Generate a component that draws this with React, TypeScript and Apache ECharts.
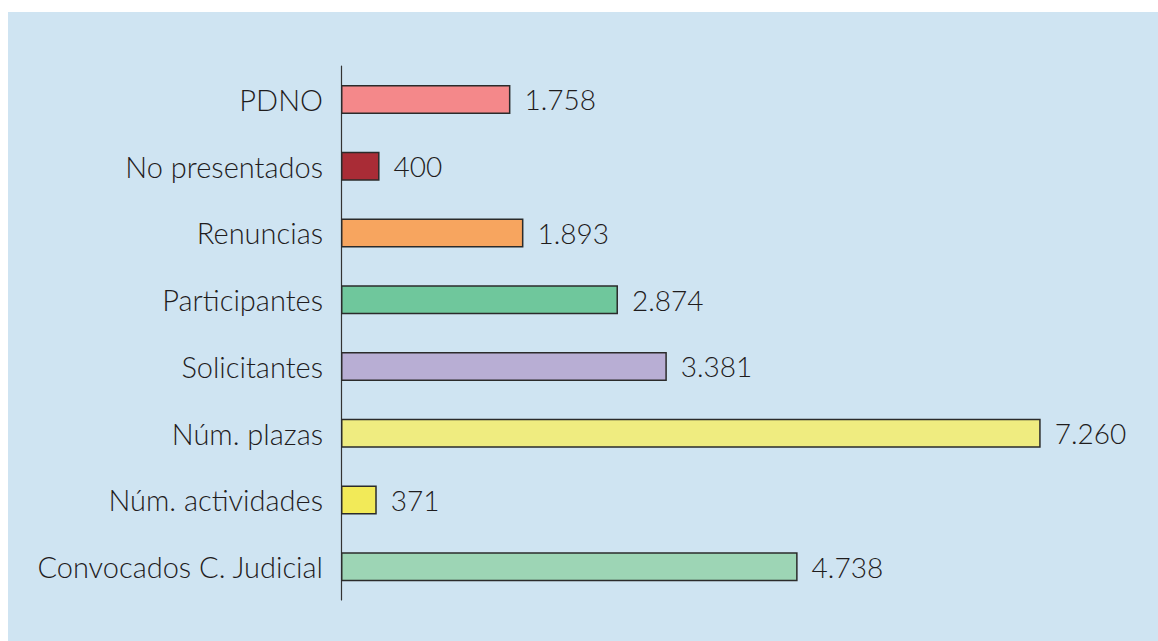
import React, { useEffect, useRef } from "react";
import * as echarts from "echarts";

const categories = [
  "PDNO",
  "No presentados",
  "Renuncias",
  "Participantes",
  "Solicitantes",
  "Núm. plazas",
  "Núm. actividades",
  "Convocados C. Judicial",
];
const values = [1758, 400, 1893, 2874, 3381, 7260, 371, 4738];
const barColors = [
  "#f4888a",
  "#a92c36",
  "#f7a55f",
  "#6fc79c",
  "#b8aed4",
  "#efec80",
  "#f2ea58",
  "#9dd5b5",
];

const fmt = (v: number) => v.toString().replace(/\B(?=(\d{3})+(?!\d))/g, ".");

export default function App() {
  const ref = useRef<HTMLDivElement>(null);
  useEffect(() => {
    if (!ref.current) return;
    const chart = echarts.init(ref.current, undefined, { renderer: "svg" });
    chart.setOption({
      animation: false,
      backgroundColor: "#cfe4f2",
      textStyle: { fontFamily: "Lato" },
      grid: { left: 333, top: 54, width: 771, height: 534, containLabel: false },
      xAxis: {
        type: "value",
        min: 0,
        max: 8000,
        show: false,
        splitLine: { show: false },
      },
      yAxis: {
        type: "category",
        data: categories,
        inverse: true,
        axisLine: { show: true, lineStyle: { color: "#333333", width: 1.2 } },
        axisTick: { show: false },
        axisLabel: {
          color: "#1f1c1d",
          fontSize: 29,
          fontWeight: 300,
          fontFamily: "Lato",
          margin: 18,
          padding: [0, 0, 6, 0],
        },
        splitLine: { show: false },
      },
      series: [
        {
          type: "bar",
          barWidth: 29,
          data: values.map((v, i) => ({
            value: v,
            itemStyle: { color: barColors[i] },
          })),
          itemStyle: { borderColor: "#2b2b2b", borderWidth: 1.5 },
          label: {
            show: true,
            position: "right",
            distance: 14,
            color: "#1f1c1d",
            fontSize: 28,
            fontWeight: 300,
            fontFamily: "Lato",
            formatter: (p: any) => fmt(p.value),
          },
        },
      ],
    });
    return () => chart.dispose();
  }, []);
  return (
    <div
      ref={ref}
      style={{ position: "absolute", left: 8, top: 12, width: 1150, height: 629 }}
    />
  );
}
